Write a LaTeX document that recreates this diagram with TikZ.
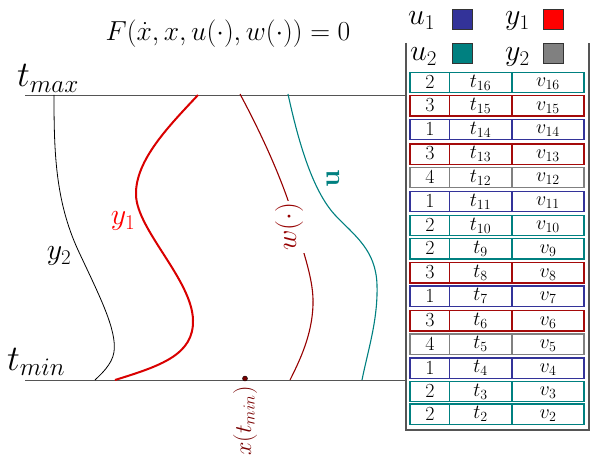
\RequirePackage{fix-cm}
\documentclass[tikz,border=0pt]{standalone}
\definecolor{cteal}{RGB}{0,128,128}
\definecolor{cblue}{RGB}{51,51,153}
\definecolor{cdred}{RGB}{165,10,10}
\definecolor{cgray}{RGB}{128,128,128}
\definecolor{wred}{RGB}{150,0,0}
\definecolor{xred}{RGB}{120,0,0}
\definecolor{lgray}{RGB}{85,85,85}
\newcommand\fsz[1]{\fontsize{#1}{#1}\selectfont}
\begin{document}
\begin{tikzpicture}[x=1pt,y=-1pt,
  axisline/.style={lgray,line width=1.2pt},
  cell/.style={line width=1.1pt},
  rowtxt/.style={anchor=base,inner sep=0pt,font=\fsz{20}},
  legtxt/.style={anchor=base west,inner sep=0pt,font=\fsz{30}},
  legbox/.style={draw=black!80,line width=0.8pt},
  curvelab/.style={inner sep=0pt,font=\fsz{30}}]
\useasboundingbox (0,0) rectangle (590,460);

% time axes
\draw[axisline] (25,95.5) -- (590,95.5);
\draw[axisline] (25,380.5) -- (590,380.5);
\node[anchor=base west,inner sep=0pt,font=\fsz{36}] (tmax) at (17,87) {$t_{max}$};
\node[anchor=base west,inner sep=0pt,font=\fsz{36}] (tmin) at (7,370) {$t_{min}$};

% equation
\node[anchor=base,inner sep=0pt,font=\fsz{27.5}] (eq) at (228,40.5) {$F(\dot{x},x,u(\cdot),w(\cdot))=0$};

% curves
\draw[black,line width=0.8pt] (54,95) .. controls (54,150) and (55,200) .. (78,250) .. controls (100,297) and (117,330) .. (114,352) .. controls (112,365) and (100,375) .. (95,380);
\draw[red!85!black,line width=2pt] (198,95) .. controls (170,125) and (135,160) .. (136,195) .. controls (137,230) and (192,280) .. (193,320) .. controls (194,355) and (160,366) .. (115,380);
\draw[wred,line width=1.1pt] (240,94) .. controls (262,135) and (285,185) .. (296,226) .. controls (303,252) and (314,280) .. (313,305) .. controls (312,335) and (300,360) .. (290,380);
\draw[cteal,line width=1.1pt] (288,94) .. controls (298,140) and (312,190) .. (335,215) .. controls (355,236) and (376,250) .. (377,285) .. controls (378,320) and (368,350) .. (362,380);

\node[curvelab,text=black] (ly2) at (59,256) {$y_2$};
\node[curvelab,text=red] (ly1) at (123,221) {$y_1$};
\node[inner sep=2pt,fill=white,rotate=90,text=wred,font=\fsz{28}] (lw) at (289,227) {$w(\cdot)$};
\node[inner sep=0pt,rotate=90,text=cteal,font=\fsz{28}] (lu) at (333,178.5) {$\mathbf{u}$};

% initial state
\node[circle,fill=xred,draw=black,inner sep=0pt,minimum size=5pt] (x0) at (245,378.5) {};
\node[anchor=east,inner sep=0pt,rotate=90,text=xred,font=\fsz{24}] (lx) at (245,386) {$x(t_{min})$};

% table frame
\fill[white] (406,43) rectangle (589,430);
\draw[lgray,line width=1.4pt] (406,43) -- (406,430) -- (589,430) -- (589,43);

% legend
\node[legtxt] (lu1) at (408,25) {$u_1$};
\draw[legbox,fill=cblue] (452,9) rectangle (472,29);
\node[legtxt] (ly1l) at (505,25) {$y_1$};
\draw[legbox,fill=red] (543,9) rectangle (563,29);
\node[legtxt] (lu2) at (410,61) {$u_2$};
\draw[legbox,fill=cteal] (452,43) rectangle (472,63);
\node[legtxt] (ly2l) at (505,61) {$y_2$};
\draw[legbox,fill=cgray] (543,43) rectangle (563,63);

% rows
\foreach \k/\c/\n/\yt in {16/cteal/2/72.3, 15/cdred/3/95.7, 14/cblue/1/119.3, 13/cdred/3/144, 12/cgray/4/167.3, 11/cblue/1/191.3, 10/cteal/2/215.3, 9/cteal/2/238.7, 8/cdred/3/262.7, 7/cblue/1/286, 6/cdred/3/310.7, 5/cgray/4/334, 4/cblue/1/358, 3/cteal/2/381.3, 2/cteal/2/404}{
  \draw[cell,draw=\c] (410,\yt) rectangle (449.5,\yt+20.3);
  \draw[cell,draw=\c] (449.5,\yt) rectangle (512,\yt+20.3);
  \draw[cell,draw=\c] (512,\yt) rectangle (584,\yt+20.3);
  \node[rowtxt] (a\k) at (430,\yt+16) {$\n$};
  \node[rowtxt] (b\k) at (480.5,\yt+14.8) {$t_{\k}$};
  \node[rowtxt] (c\k) at (548,\yt+14.5) {$v_{\k}$};
}
\end{tikzpicture}
\end{document}
